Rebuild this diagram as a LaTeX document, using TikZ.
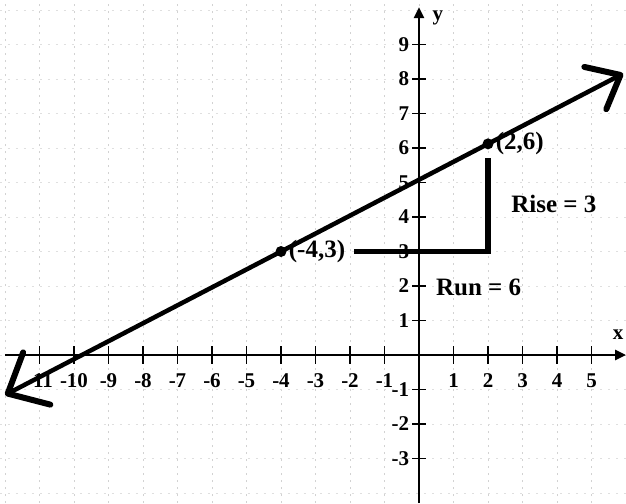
\documentclass[tikz,border=0pt]{standalone}
\usepackage{fontspec}
\setmainfont{Liberation Serif}
\usetikzlibrary{calc,arrows.meta}
\begin{document}
\begin{tikzpicture}[x=34.5pt,y=34.5pt,
  gridline/.style={gray!35, line width=0.7pt, dash pattern=on 2pt off 5pt},
  hgridline/.style={gray!25, line width=0.6pt, dash pattern=on 2pt off 6pt},
  axisline/.style={line width=2.6pt, -{Triangle[length=11pt,width=10pt]}},
  tickmark/.style={line width=1.6pt},
  ticklab/.style={font=\fontsize{21}{21}\selectfont\bfseries, inner sep=0pt},
  annot/.style={font=\fontsize{25}{25}\selectfont\bfseries, inner sep=1pt},
  graphline/.style={line width=4.5pt},
  arrowarm/.style={line width=6pt, line cap=round, line join=round},
  bracket/.style={line width=5.5pt, line join=miter},
  dot/.style={circle, fill=black, inner sep=0pt, minimum size=11pt}]
\useasboundingbox (-12.145,-4.29) rectangle (6.0,10.29);
\fill[white] (-12.145,-4.29) rectangle (6.0,10.29);
% grid
\foreach \i in {-12,-11,...,5} \draw[gridline] (\i,-4.29) -- (\i,10.29);
\foreach \j in {-4,-3,...,10} \draw[hgridline] (-12.145,\j) -- (6,\j);
% axes
\coordinate (xl) at (-12.0,0);
\coordinate (xr) at (6.0,0);
\coordinate (yb) at (0,-4.29);
\coordinate (yt) at (0,10.08);
\draw[axisline] (xl) -- (xr);
\draw[axisline] (yb) -- (yt);
\node[ticklab] (xlab) at (5.77,0.6) {x};
\node[ticklab] (ylab) at (0.55,9.77) {y};
% ticks
\foreach \i in {-11,-10,...,-1,1,2,3,4,5} {
  \draw[tickmark] (\i,-0.25) -- (\i,0.25);
  \node[ticklab] (xt\i) at (\i,-0.75) {\i};
}
\foreach \j in {-3,-2,-1,1,2,3,4,5,6,7,8,9} {
  \draw[tickmark] (-0.2,\j) -- (0.2,\j);
  \node[ticklab, anchor=east] (yt\j) at (-0.28,\j) {\j};
}
% points and line
\node[dot] (p1) at (-4,3) {};
\node[dot] (p2) at (2,6.12) {};
\coordinate (tipL) at ($(p1)!-1.32!(p2)$);
\coordinate (tipR) at ($(p1)!1.64!(p2)$);
\draw[graphline] (tipL) -- (tipR);
\draw[arrowarm] ($(tipR)!37pt!40:(p1)$) -- (tipR) -- ($(tipR)!37pt!-40:(p1)$);
\draw[arrowarm] ($(tipL)!44pt!42:(p2)$) -- (tipL) -- ($(tipL)!44pt!-42:(p2)$);
\node[annot, anchor=west] (l1) at ([xshift=1pt]p1.east) {(-4,3)};
\node[annot, anchor=west] (l2) at ([xshift=1pt]p2.east) {(2,6)};
% rise and run
\coordinate (corner) at (2,3);
\coordinate (risetop) at ([yshift=-8pt]p2.south);
\draw[bracket] ([xshift=8pt]l1.east) -- (corner) -- (risetop);
\node[annot, anchor=west] (rise) at (2.64,4.38) {Rise = 3};
\node[annot, anchor=west] (run) at (0.46,1.97) {Run = 6};
\end{tikzpicture}
\end{document}
